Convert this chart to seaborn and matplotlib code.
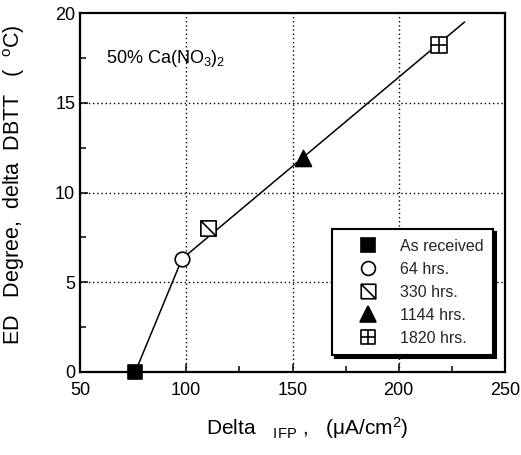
import numpy as np
import pandas as pd
import matplotlib
matplotlib.use("Agg")
import matplotlib.pyplot as plt
import seaborn as sns
from matplotlib.path import Path
from matplotlib.lines import Line2D
from matplotlib.ticker import MultipleLocator

# ---- data ----
labels = ["As received", "64 hrs.", "330 hrs.", "1144 hrs.", "1820 hrs."]
delta_ifp = [76, 98, 110, 155, 219]
delta_dbtt = [0.0, 6.3, 8.0, 11.9, 18.2]
line_x = [76, 98, 231]
line_y = [0.0, 6.3, 19.5]
x_ticks = [50, 100, 150, 200, 250]
y_ticks = [0, 5, 10, 15, 20]

sns.set_theme(style="ticks")
plt.rcParams['font.family'] = ['Liberation Sans', 'DejaVu Sans']
plt.rcParams['mathtext.fontset'] = 'custom'
plt.rcParams['mathtext.rm'] = 'Liberation Sans'
plt.rcParams['mathtext.it'] = 'Liberation Sans'

# custom markers
sq = [(-1, -1), (1, -1), (1, 1), (-1, 1), (-1, -1)]
diag_path = Path(sq + [(-1, 1), (1, -1)],
                 [Path.MOVETO] + [Path.LINETO] * 3 + [Path.CLOSEPOLY] + [Path.MOVETO, Path.LINETO])
cross_path = Path(sq + [(0, -1), (0, 1), (-1, 0), (1, 0)],
                  [Path.MOVETO] + [Path.LINETO] * 3 + [Path.CLOSEPOLY] +
                  [Path.MOVETO, Path.LINETO, Path.MOVETO, Path.LINETO])

styles = [
    dict(marker="s", face="black", size=10),
    dict(marker="o", face="white", size=10.5),
    dict(marker=diag_path, face="white", size=11),
    dict(marker="^", face="black", size=11.5),
    dict(marker=cross_path, face="white", size=11),
]

fig = plt.figure(figsize=(5.21, 4.55), dpi=100)
ax = fig.add_axes([80/521, 1-372/455, 425/521, 359/455])

df_line = pd.DataFrame({"x": line_x, "y": line_y})
sns.lineplot(data=df_line, x="x", y="y", ax=ax, color="black", lw=1.1, sort=False, zorder=2)

for i in range(len(labels)):
    st = styles[i]
    d = pd.DataFrame({"x": [delta_ifp[i]], "y": [delta_dbtt[i]]})
    sns.scatterplot(data=d, x="x", y="y", ax=ax, marker=st["marker"], s=st["size"]**2,
                    color=st["face"], edgecolor="black", linewidth=1.2, zorder=3, clip_on=False)

ax.set_xlim(50, 250)
ax.set_ylim(0, 20)
ax.set_xticks(x_ticks)
ax.set_yticks(y_ticks)
ax.xaxis.set_minor_locator(MultipleLocator(25))
ax.yaxis.set_minor_locator(MultipleLocator(2.5))
ax.tick_params(which="both", direction="in", colors="black", labelsize=13, width=1.1)
ax.tick_params(which="major", length=6)
ax.tick_params(which="minor", length=4)
ax.tick_params(axis="x", pad=7)
for s in ax.spines.values():
    s.set_visible(True)
    s.set_color("black")
    s.set_linewidth(1.6)

for v in [100, 150, 200]:
    ax.axvline(v, color="black", ls=(0, (1, 2)), lw=1.0, zorder=1)
for v in [5, 10, 15]:
    ax.axhline(v, color="black", ls=(0, (1, 2)), lw=1.0, zorder=1)

ax.set_xlabel(r"Delta   $\mathregular{_{I}}$$_{\mathregular{FP}}$ ,   ($\mathregular{\mu}$A/cm$^{\mathregular{2}}$)",
              fontsize=15, color="black")
ax.xaxis.set_label_coords(0.535, -0.12)
ax.set_ylabel("ED   Degree,  delta  DBTT   (  $^{\\mathregular{o}}$C)", fontsize=15.5, color="black")
ax.yaxis.set_label_coords(-0.125, 0.522)

ax.text(62, 17.45, r"50% Ca(NO$_{\mathregular{3}}$)$_{\mathregular{2}}$", fontsize=13, color="black",
        va="center")

handles = []
for st in styles:
    handles.append(Line2D([], [], ls="none", marker=st["marker"], markersize=st["size"]*0.95,
                          markerfacecolor=st["face"], markeredgecolor="black", markeredgewidth=1.2))
leg = ax.legend(handles, labels, loc="lower right", bbox_to_anchor=(0.972, 0.047),
                bbox_transform=ax.transAxes, borderaxespad=0, frameon=True, fancybox=False,
                shadow={"color": "black", "alpha": 1}, fontsize=11.5, handletextpad=0.35,
                labelspacing=0.5, borderpad=0.6, handlelength=3.3)
leg.get_frame().set_edgecolor("black")
leg.get_frame().set_linewidth(1.5)

fig.savefig("out.png", dpi=100)
